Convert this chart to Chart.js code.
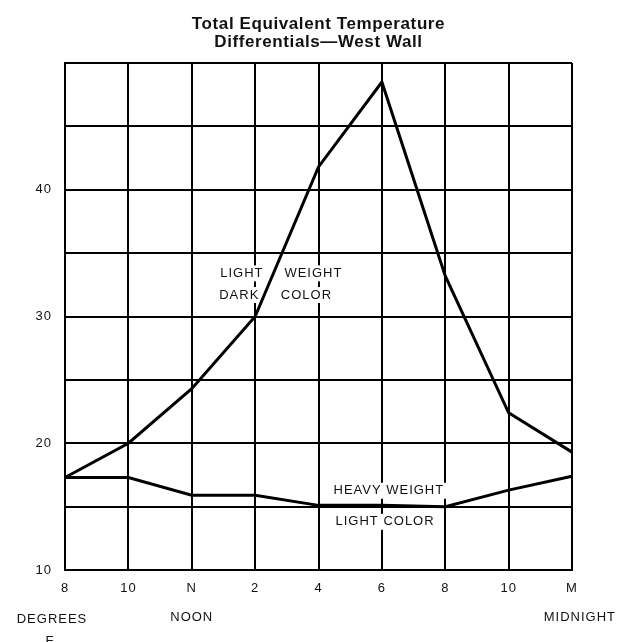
<!DOCTYPE html>
<html>
<head>
<meta charset="utf-8">
<script src="https://cdn.jsdelivr.net/npm/chart.js@4"></script>
<style>
  body { margin: 0; background: #fff; }
  #wrap { width: 617px; height: 642px; position: relative; }
</style>
</head>
<body>
<div id="wrap"><canvas id="myChart"></canvas></div>
<script>
// hours of the day, 8 am to midnight
const hours = ["8", "10", "N", "2", "4", "6", "8", "10", "M"];
// light weight, dark colour wall (deg F)
const lightDark = [17.3, 20.0, 24.3, 30.0, 41.8, 48.5, 33.2, 22.4, 19.3];
// heavy weight, light colour wall (deg F)
const heavyLight = [17.3, 17.3, 15.9, 15.9, 15.1, 15.1, 15.0, 16.3, 17.4];
const yTickLabels = [10, 20, 30, 40];
const titleLines = ["Total Equivalent Temperature", "Differentials\u2014West Wall"];

const FONT = '"Liberation Sans", Arial, Helvetica, sans-serif';

// curve labels, placed in data units (category index, degrees)
const curveLabels = [
  { text: "LIGHT", x: 2.79, y: 33.4 },
  { text: "WEIGHT", x: 3.92, y: 33.4 },
  { text: "DARK", x: 2.75, y: 31.7 },
  { text: "COLOR", x: 3.81, y: 31.7 },
  { text: "HEAVY WEIGHT", x: 5.11, y: 16.25 },
  { text: "LIGHT COLOR", x: 5.05, y: 13.8 }
];

const labelPlugin = {
  id: "curveLabels",
  beforeDraw(chart) {
    // the old typeset labels are widely tracked
    chart.ctx.letterSpacing = "1px";
  },
  beforeDatasetsDraw(chart) {
    const { ctx, scales } = chart;
    ctx.save();
    ctx.font = "13px " + FONT;
    ctx.textAlign = "center";
    ctx.textBaseline = "middle";
    curveLabels.forEach(l => {
      const px = scales.x.getPixelForValue(l.x);
      const py = scales.y.getPixelForValue(l.y);
      const w = ctx.measureText(l.text).width;
      ctx.fillStyle = "#fff";
      ctx.fillRect(px - w / 2 - 3, py - 8, w + 6, 16);
      ctx.fillStyle = "#111";
      ctx.fillText(l.text, px, py);
    });
    ctx.restore();
  },
  afterDraw(chart) {
    const { ctx, scales, chartArea } = chart;
    ctx.save();
    ctx.fillStyle = "#111";
    ctx.textBaseline = "middle";
    ctx.textAlign = "center";

    // title, centred over the plot
    const cx = (chartArea.left + chartArea.right) / 2;
    ctx.letterSpacing = "0.6px";
    ctx.font = "bold 17px " + FONT;
    ctx.fillText(titleLines[0], cx, 24);
    ctx.fillText(titleLines[1], cx, 42);

    ctx.letterSpacing = "1px";
    ctx.font = "13px " + FONT;
    ctx.fillText("DEGREES", 52, 619);
    ctx.fillText("F", 50, 641);
    ctx.fillText("NOON", scales.x.getPixelForValue(2), 617);
    ctx.textAlign = "right";
    ctx.fillText("MIDNIGHT", 616, 617);
    ctx.restore();
  }
};

const ctx = document.getElementById("myChart").getContext("2d");
new Chart(ctx, {
  type: "line",
  data: {
    labels: hours,
    datasets: [
      {
        label: "Light weight, dark color",
        data: lightDark,
        borderColor: "#000",
        borderWidth: 3,
        pointRadius: 0,
        tension: 0,
        fill: false
      },
      {
        label: "Heavy weight, light color",
        data: heavyLight,
        borderColor: "#000",
        borderWidth: 3,
        pointRadius: 0,
        tension: 0,
        fill: false
      }
    ]
  },
  options: {
    responsive: true,
    maintainAspectRatio: false,
    animation: false,
    layout: { padding: { top: 63, right: 45, left: 0, bottom: 0 } },
    plugins: {
      legend: { display: false },
      tooltip: { enabled: false },
      title: { display: false }
    },
    scales: {
      x: {
        offset: false,
        grid: { color: "#000", lineWidth: 2, drawTicks: false },
        border: { color: "#000", width: 2 },
        ticks: { color: "#111", font: { family: FONT, size: 13 }, padding: 11, maxRotation: 0, autoSkip: false },
        afterFit(scale) { scale.height = 72; }
      },
      y: {
        min: 10,
        max: 50,
        grid: { color: "#000", lineWidth: 2, drawTicks: false },
        border: { color: "#000", width: 2 },
        ticks: {
          stepSize: 5,
          color: "#111",
          font: { family: FONT, size: 13 },
          padding: 13,
          callback: v => (yTickLabels.includes(v) ? String(v) : "")
        },
        afterFit(scale) { scale.width = 65; }
      }
    }
  },
  plugins: [labelPlugin]
});
</script>
</body>
</html>
